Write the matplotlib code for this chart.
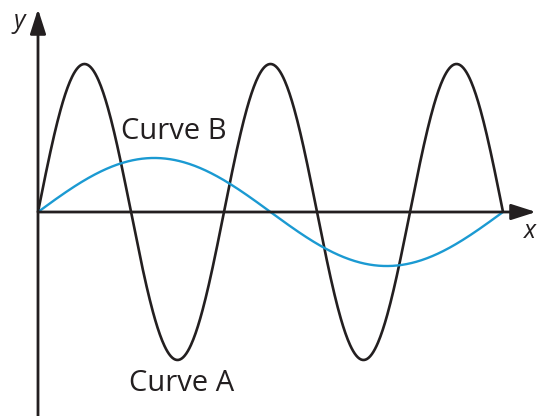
import numpy as np
import matplotlib
matplotlib.use("Agg")
import matplotlib.pyplot as plt

# Curve parameters (axis units: curve A period = 1)
curve_a_amplitude = 1.0
curve_a_periods = 2.5
curve_b_amplitude = 0.365
curve_b_periods = 1.0
t_end = 2.5
labels = ["Curve A", "Curve B"]
axis_labels = ["x", "y"]

t = np.linspace(0, t_end, 600)
curve_a = curve_a_amplitude * np.sin(2 * np.pi * curve_a_periods * t / t_end)
curve_b = curve_b_amplitude * np.sin(2 * np.pi * curve_b_periods * t / t_end)

plt.rcParams['font.family'] = ['Open Sans', 'DejaVu Sans']
fig = plt.figure(figsize=(5.37, 4.16), dpi=100)
ax = fig.add_axes([0, 0, 1, 1])
ax.set_xlim(-38 / 186, (537 - 38) / 186)
ax.set_ylim((212 - 416) / 148, 212 / 148)
ax.axis('off')

dark = '#231f20'
blue = '#1b9ad2'

astyle = '-|>,head_length=0.75,head_width=0.24'
# axes with arrows
ax.annotate('', xy=((536 - 38) / 186, 0), xytext=(0, 0), annotation_clip=False,
            arrowprops=dict(arrowstyle=astyle, mutation_scale=20, lw=2,
                            color=dark, shrinkA=0, shrinkB=0))
ax.annotate('', xy=(0, (212 - 9) / 148), xytext=(0, -1.4), annotation_clip=False,
            arrowprops=dict(arrowstyle=astyle, mutation_scale=20, lw=2,
                            color=dark, shrinkA=0, shrinkB=0))

ax.plot(t, curve_a, color=dark, lw=1.9, solid_capstyle='butt')
ax.plot(t, curve_b, color=blue, lw=1.7, solid_capstyle='butt')

ax.text(0.774, -1.16, labels[0], fontsize=21, color=dark, ha='center', va='center')
ax.text(0.731, 0.545, labels[1], fontsize=21, color=dark, ha='center', va='center')
ax.text(2.645, -0.135, axis_labels[0], fontsize=18, color=dark, style='italic',
        ha='center', va='center')
ax.text(-0.1, 1.285, axis_labels[1], fontsize=18, color=dark, style='italic',
        ha='center', va='center')

fig.savefig('out.png', dpi=100)
